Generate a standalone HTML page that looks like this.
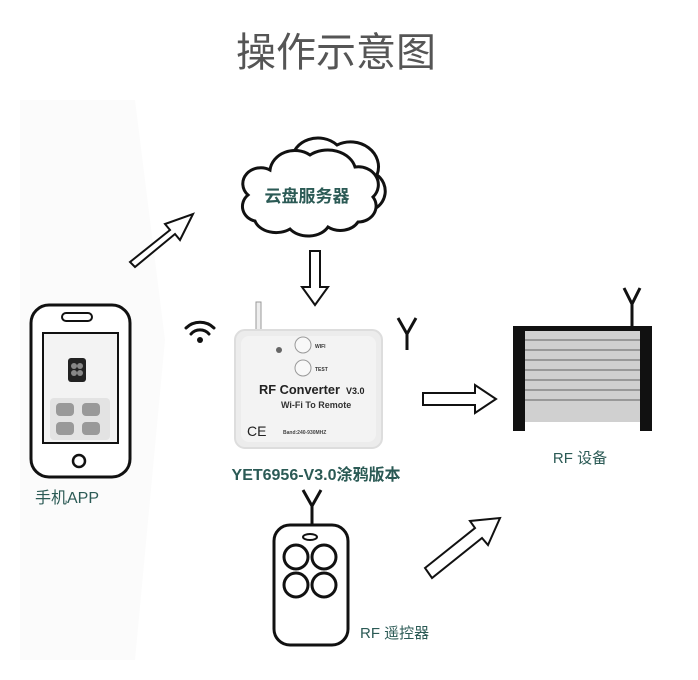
<!DOCTYPE html>
<html><head><meta charset="utf-8"><style>
body{margin:0;background:#fff;}
svg{display:block;}
.t{font-family:"Liberation Sans","Noto Sans CJK SC",sans-serif;}
</style></head><body>
<svg width="698" height="680" viewBox="0 0 698 680" xmlns="http://www.w3.org/2000/svg">
<rect width="698" height="680" fill="#fff"/>
<polygon points="20,100 135,100 165,340 135,660 20,660" fill="#fbfbfb"/>
<text x="336" y="66" text-anchor="middle" class="t" font-size="40" fill="#555">操作示意图</text>

<!-- cloud -->
<g stroke="#111" stroke-width="3" fill="#fff">
<path d="M292,160 a26,22 0 0 1 45,-15 a28,25 0 0 1 40,30 a20,20 0 0 1 -5,35 L300,200 z"/>
<path d="M248,195 a18,16 0 0 1 22,-25 a25,22 0 0 1 40,-15 a28,22 0 0 1 45,12 a20,18 0 0 1 18,30 a18,16 0 0 1 -15,25 a20,16 0 0 1 -30,5 a22,16 0 0 1 -38,2 a22,16 0 0 1 -35,-8 a16,15 0 0 1 -7,-26 z"/>
</g>
<text x="307" y="202" text-anchor="middle" class="t" font-size="17" fill="#2b5a55" font-weight="bold">云盘服务器</text>

<!-- arrows -->
<g stroke="#111" stroke-width="2" fill="#fff">
<path d="M130,262 L170,230 L165,224 L193,214 L180,240 L175,234 L135,267 Z"/>
<path d="M310,251 L320,251 L320,287 L328,287 L315,305 L302,287 L310,287 Z"/>
<path d="M423,393 L475,393 L475,385 L496,399 L475,413 L475,405 L423,405 Z"/>
<path d="M425,568 L475,528 L470,521 L500,518 L488,545 L482,538 L432,578 Z"/>
</g>

<!-- wifi -->
<g stroke="#111" stroke-width="3" fill="none" stroke-linecap="round">
<path d="M186,328 a20,20 0 0 1 28,0"/>
<path d="M191,334 a12,12 0 0 1 18,0"/>
</g>
<circle cx="200" cy="340" r="3" fill="#111"/>

<!-- device -->
<rect x="256" y="302" width="5" height="30" fill="#eee" stroke="#999" stroke-width="1"/>
<rect x="235" y="330" width="147" height="118" rx="10" fill="#ececec" stroke="#ddd" stroke-width="2"/>
<rect x="241" y="336" width="135" height="106" rx="8" fill="#f3f3f3"/>
<circle cx="279" cy="350" r="3" fill="#666"/>
<circle cx="303" cy="345" r="8" fill="#f8f8f8" stroke="#999"/>
<circle cx="303" cy="368" r="8" fill="#f8f8f8" stroke="#999"/>
<text x="315" y="348" class="t" font-size="5" fill="#333" font-weight="bold">WIFI</text>
<text x="315" y="371" class="t" font-size="5" fill="#333" font-weight="bold">TEST</text>
<text x="259" y="394" class="t" font-size="13" fill="#222" font-weight="bold" textLength="81" lengthAdjust="spacingAndGlyphs">RF Converter</text>
<text x="346" y="394" class="t" font-size="9" fill="#222" font-weight="bold">V3.0</text>
<text x="281" y="408" class="t" font-size="9" fill="#333" font-weight="bold">Wi-Fi To Remote</text>
<text x="247" y="436" class="t" font-size="14" fill="#222">CE</text>
<text x="283" y="434" class="t" font-size="5" fill="#444" font-weight="bold">Band:240-930MHZ</text>
<text x="316" y="480" text-anchor="middle" class="t" font-size="16" fill="#2b5a55" font-weight="bold">YET6956-V3.0涂鸦版本</text>

<!-- antennas -->
<g stroke="#111" stroke-width="3" fill="none">
<path d="M398,318 L407,334 L416,318 M407,334 L407,350"/>
<path d="M624,288 L632,304 L640,288 M632,304 L632,326"/>
<path d="M303,490 L312,506 L321,490 M312,506 L312,525"/>
</g>

<!-- phone -->
<rect x="31" y="305" width="99" height="172" rx="18" fill="#fff" stroke="#111" stroke-width="3"/>
<rect x="62" y="313" width="30" height="8" rx="4" fill="none" stroke="#111" stroke-width="2"/>
<rect x="43" y="333" width="75" height="110" fill="#f3f3f3" stroke="#111" stroke-width="2"/>
<rect x="68" y="358" width="18" height="24" rx="3" fill="#222"/>
<g fill="#888"><circle cx="74" cy="366" r="3"/><circle cx="80" cy="366" r="3"/><circle cx="74" cy="373" r="3"/><circle cx="80" cy="373" r="3"/></g>
<rect x="50" y="398" width="60" height="42" rx="4" fill="#e3e3e3"/>
<g fill="#999"><rect x="56" y="403" width="18" height="13" rx="4"/><rect x="82" y="403" width="18" height="13" rx="4"/><rect x="56" y="422" width="18" height="13" rx="4"/><rect x="82" y="422" width="18" height="13" rx="4"/></g>
<circle cx="79" cy="461" r="6" fill="none" stroke="#111" stroke-width="2.5"/>
<text x="67" y="503" text-anchor="middle" class="t" font-size="16" fill="#2b5a55">手机APP</text>

<!-- shutter -->
<rect x="523" y="330" width="120" height="92" fill="#d0d0d0"/>
<g stroke="#999" stroke-width="2">
<line x1="523" y1="340" x2="643" y2="340"/><line x1="523" y1="350" x2="643" y2="350"/><line x1="523" y1="360" x2="643" y2="360"/><line x1="523" y1="370" x2="643" y2="370"/><line x1="523" y1="380" x2="643" y2="380"/><line x1="523" y1="390" x2="643" y2="390"/><line x1="523" y1="400" x2="643" y2="400"/>
</g>
<rect x="513" y="326" width="139" height="5" fill="#111"/>
<rect x="513" y="326" width="12" height="105" fill="#111"/>
<rect x="640" y="326" width="12" height="105" fill="#111"/>
<text x="580" y="463" text-anchor="middle" class="t" font-size="15" fill="#2b5a55">RF 设备</text>

<!-- remote -->
<rect x="274" y="525" width="74" height="120" rx="16" fill="#fff" stroke="#111" stroke-width="3"/>
<ellipse cx="310" cy="537" rx="7" ry="3" fill="none" stroke="#111" stroke-width="2"/>
<g fill="none" stroke="#111" stroke-width="3">
<circle cx="296" cy="557" r="12"/><circle cx="324" cy="557" r="12"/><circle cx="296" cy="585" r="12"/><circle cx="324" cy="585" r="12"/>
</g>
<text x="360" y="638" class="t" font-size="15" fill="#2b5a55">RF 遥控器</text>
</svg>
</body></html>
